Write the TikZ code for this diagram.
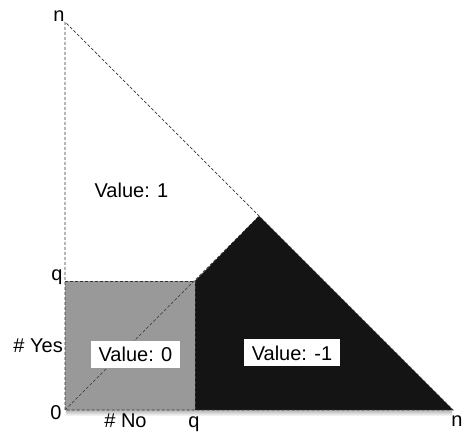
\documentclass[tikz,border=0pt]{standalone}
\usepackage{fontspec}
\setmainfont{Liberation Sans}
\begin{document}
\begin{tikzpicture}[x=1pt,y=1pt,
  lbl/.style={font=\fontsize{20}{24}\selectfont, inner sep=0pt, anchor=base},
  valbox/.style={fill=white, font=\fontsize{20}{24}\selectfont, inner sep=0pt, minimum height=27pt},
  dline/.style={draw=black!80, dash pattern=on 3pt off 2pt, line width=0.7pt},
  grayfill/.style={fill=black!40},
  blkfill/.style={fill=black!92}]
\useasboundingbox (0,0) rectangle (463,435);
\coordinate (O) at (65,25);
\coordinate (Ny) at (65,413);
\coordinate (Nx) at (453,25);
\coordinate (Qy) at (65,154);
\coordinate (Qx) at (195,25);
\coordinate (QQ) at (195,154);
\coordinate (M) at (259,219);
% soft shadow under base
\shade[top color=black!30, bottom color=white] (66,19) rectangle (452,25);
\fill[grayfill] (O) rectangle (QQ);
\draw[dline] (O) -- (M);
\fill[blkfill] (Qx) -- (QQ) -- (M) -- (Nx) -- cycle;
\draw[dline] (O) -- (Ny) -- (Nx) -- cycle;
\draw[dline] (Qy) -- (QQ) -- (Qx);
% axis labels
\node[lbl] (ntop) at (59,413) {n};
\node[lbl] (qleft) at (57,154) {q};
\node[lbl] (zero) at (56,15) {0};
\node[lbl, anchor=base east] (yes) at (63,82) {\# Yes};
\node[lbl] (no) at (125.5,7) {\# No};
\node[lbl] (qbot) at (194,7) {q};
\node[lbl] (nbot) at (457,8) {n};
% values
\node[lbl] (v1) at (131.5,237) {Value: 1};
\node[valbox, minimum width=89pt] (v0) at (135.5,80.5) {Value: 0};
\node[valbox, minimum width=96pt] (vm1) at (292,82) {Value: -1};
\end{tikzpicture}
\end{document}
